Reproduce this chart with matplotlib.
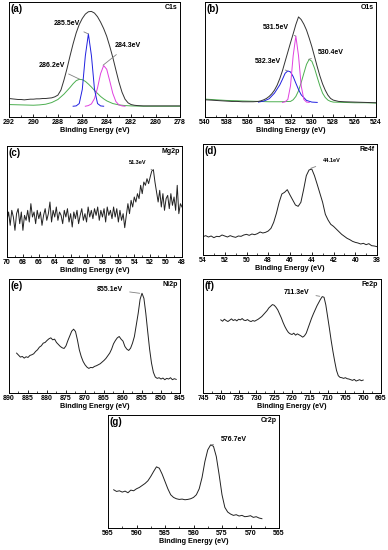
import matplotlib.pyplot as plt
from matplotlib.ticker import MultipleLocator

plt.rcParams['font.family'] = ['Liberation Sans', 'DejaVu Sans']
plt.rcParams['font.weight'] = 'bold'

# ---- (a) C1s ----
c1s_env_x = [292, 291.75, 291.5, 291.25, 291, 290.75, 290.5, 290.25, 290, 289.75, 289.5, 289.25,
             289, 288.75, 288.5, 288.25, 288, 287.75, 287.5, 287.25, 287, 286.75, 286.5, 286.25,
             286, 285.75, 285.5, 285.25, 285, 284.75, 284.5, 284.25, 284, 283.75, 283.5, 283.25,
             283, 282.75, 282.5, 282.25, 282, 281.75, 281.5, 281, 280, 279, 278]
c1s_env_y = [23, 22, 21, 20, 20, 19, 20, 21, 21, 22, 22, 23,
             23, 24, 25, 28, 33, 48, 78, 112, 150, 186, 218, 243,
             261, 274, 281, 282, 277, 266, 250, 231, 208, 178, 145, 108,
             72, 42, 21, 10, 5, 3, 2, 1, 1, 1, 1]
c1s_g_x = [292, 291, 290, 289.5, 289, 288.5, 288, 287.5, 287, 286.75, 286.5, 286.25, 286, 285.75,
           285.5, 285.25, 285, 284.75, 284.5, 284.25, 284, 283.5, 283, 282.5, 282, 281, 280, 279, 278]
c1s_g_y = [5, 4, 3, 4, 6, 11, 20, 36, 56, 67, 76, 80, 79, 74,
           66, 57, 47, 38, 29, 22, 16, 8, 4, 2, 1, 0, 0, 0, 0]
c1s_b_x = [286.75, 286.5, 286.25, 286, 285.75, 285.5, 285.25, 285, 284.75, 284.5, 284.25]
c1s_b_y = [0, 1, 8, 50, 150, 215, 150, 50, 8, 1, 0]
c1s_m_x = [285.75, 285.5, 285.25, 285, 284.75, 284.5, 284.25, 284, 283.75, 283.5, 283.25, 283, 282.75, 282.5]
c1s_m_y = [0, 2, 7, 23, 55, 97, 121, 110, 75, 38, 14, 4, 1, 0]

# ---- (b) O1s ----
o1s_env_x = [540, 539.5, 539, 538.5, 538, 537.5, 537, 536.5, 536, 535.5, 535, 534.75, 534.5, 534.25,
             534, 533.75, 533.5, 533.25, 533, 532.75, 532.5, 532.25, 532, 531.75, 531.5, 531.25,
             531, 530.75, 530.5, 530.25, 530, 529.75, 529.5, 529.25, 529, 528.75, 528.5, 528.25,
             528, 527.5, 527, 526, 525, 524]
o1s_env_y = [8, 7, 6, 5, 4, 3, 3, 2, 2, 2, 3, 5, 8, 12,
             18, 26, 37, 52, 72, 96, 124, 152, 180, 207, 235, 258,
             250, 236, 218, 194, 168, 138, 108, 80, 56, 37, 22, 12,
             7, 3, 2, 1, 0, -1]
o1s_b_x = [535, 534.5, 534, 533.5, 533, 532.75, 532.5, 532.25, 532, 531.75, 531.5, 531.25, 531, 530.5, 530, 529.5]
o1s_b_y = [1, 4, 11, 28, 53, 70, 88, 95, 92, 78, 58, 39, 23, 6, 1, 0]
o1s_m_x = [532.75, 532.5, 532.25, 532, 531.75, 531.5, 531.25, 531, 530.75, 530.5, 530.25]
o1s_m_y = [0, 2, 9, 50, 141, 200, 141, 50, 9, 1, 0]
o1s_g_x = [540, 539, 538, 537, 536, 535, 534, 533, 532, 531.75, 531.5, 531.25, 531, 530.75, 530.5,
           530.25, 530, 529.75, 529.5, 529.25, 529, 528.75, 528.5, 528.25, 528, 527, 526, 525, 524]
o1s_g_y = [10, 8, 6, 5, 4, 3, 2, 2, 3, 8, 18, 35, 60, 88, 115,
           130, 124, 103, 76, 50, 28, 15, 7, 3, 1, 0, -1, -1, -2]

# ---- (c) Mg2p ----
mg_x = [70.0, 69.8, 69.6, 69.4, 69.2, 69.0, 68.8, 68.6, 68.4, 68.2, 68.0, 67.8, 67.6, 67.4, 67.2,
        67.0, 66.8, 66.6, 66.4, 66.2, 66.0, 65.8, 65.6, 65.4, 65.2, 65.0, 64.8, 64.6, 64.4, 64.2,
        64.0, 63.8, 63.6, 63.4, 63.2, 63.0, 62.8, 62.6, 62.4, 62.2, 62.0, 61.8, 61.6, 61.4, 61.2,
        61.0, 60.8, 60.6, 60.4, 60.2, 60.0, 59.8, 59.6, 59.4, 59.2, 59.0, 58.8, 58.6, 58.4, 58.2,
        58.0, 57.8, 57.6, 57.4, 57.2, 57.0, 56.8, 56.6, 56.4, 56.2, 56.0, 55.8, 55.6, 55.4, 55.2,
        55.0, 54.8, 54.6, 54.4, 54.2, 54.0, 53.8, 53.6, 53.4, 53.2, 53.0, 52.8, 52.6, 52.4, 52.2,
        52.0, 51.8, 51.6, 51.4, 51.2, 51.0, 50.8, 50.6, 50.4, 50.2, 50.0, 49.8, 49.6, 49.4, 49.2,
        49.0, 48.8, 48.6, 48.4, 48.2, 48.0]
mg_y = [110, 135, 95, 140, 120, 80, 130, 145, 100, 135, 80, 125, 110, 140, 105,
        160, 120, 135, 100, 140, 115, 135, 95, 125, 145, 110, 130, 165, 105, 140,
        120, 150, 110, 135, 125, 100, 140, 120, 145, 105, 130, 90, 135, 115, 140,
        100, 125, 145, 110, 130, 105, 150, 120, 140, 115, 145, 125, 150, 110, 140,
        120, 145, 105, 150, 125, 140, 115, 150, 120, 145, 105, 140, 110, 130, 88,
        125, 160, 130, 170, 150, 180, 165, 190, 175, 215, 190, 225, 215, 235, 220,
        240, 258, 262, 225, 195, 165, 200, 150, 190, 140, 175, 185, 145, 190, 155,
        180, 140, 215, 130, 160, 150]

# ---- (d) Re4f ----
re_x = [54.0, 53.75, 53.5, 53.25, 53.0, 52.75, 52.5, 52.25, 52.0, 51.75, 51.5, 51.25, 51.0, 50.75,
        50.5, 50.25, 50.0, 49.75, 49.5, 49.25, 49.0, 48.75, 48.5, 48.25, 48.0, 47.75, 47.5, 47.25,
        47.0, 46.75, 46.5, 46.25, 46.0, 45.75, 45.5, 45.25, 45.0, 44.75, 44.5, 44.25, 44.0, 43.75,
        43.5, 43.25, 43.0, 42.75, 42.5, 42.25, 42.0, 41.75, 41.5, 41.25, 41.0, 40.75, 40.5, 40.25,
        40.0, 39.75, 39.5, 39.25, 39.0, 38.75, 38.5, 38.25, 38.0]
re_y = [55, 58, 54, 57, 52, 56, 55, 60, 57, 54, 58, 55, 53, 57,
        56, 60, 62, 59, 63, 61, 64, 69, 66, 68, 72, 80, 98, 125,
        158, 183, 188, 196, 180, 165, 150, 146, 158, 196, 238, 255, 258, 238,
        212, 185, 158, 122, 105, 92, 86, 78, 70, 62, 56, 50, 46, 41,
        38, 36, 33, 35, 31, 34, 28, 27, 25]

# ---- (e) Ni2p ----
ni_x = [888.0, 887.5, 887.0, 886.5, 886.0, 885.5, 885.0, 884.5, 884.0, 883.5, 883.0, 882.5, 882.0,
        881.5, 881.0, 880.5, 880.0, 879.5, 879.0, 878.5, 878.0, 877.5, 877.0, 876.5, 876.0, 875.5,
        875.0, 874.5, 874.0, 873.5, 873.0, 872.5, 872.0, 871.5, 871.0, 870.5, 870.0, 869.5, 869.0,
        868.5, 868.0, 867.5, 867.0, 866.5, 866.0, 865.5, 865.0, 864.5, 864.0, 863.5, 863.0, 862.5,
        862.0, 861.5, 861.0, 860.5, 860.0, 859.5, 859.0, 858.5, 858.0, 857.5, 857.0, 856.5, 856.0,
        855.5, 855.0, 854.5, 854.0, 853.5, 853.0, 852.5, 852.0, 851.5, 851.0, 850.5, 850.0, 849.5,
        849.0, 848.5, 848.0, 847.5, 847.0, 846.5, 846.0]
ni_y = [120, 114, 108, 110, 105, 109, 107, 113, 115, 118, 125, 130, 138,
        142, 150, 152, 158, 163, 166, 160, 162, 152, 146, 140, 136, 134,
        142, 158, 172, 186, 192, 185, 160, 130, 110, 95, 85, 78, 74,
        77, 76, 80, 82, 85, 88, 93, 98, 104, 112, 120, 132, 148,
        158, 166, 170, 162, 156, 140, 132, 128, 135, 150, 170, 205, 240,
        282, 300, 285, 240, 185, 132, 90, 62, 48, 44, 46, 42, 45,
        40, 44, 42, 46, 40, 43, 41]

# ---- (f) Fe2p ----
fe_x = [740.0, 739.5, 739.0, 738.5, 738.0, 737.5, 737.0, 736.5, 736.0, 735.5, 735.0, 734.5, 734.0,
        733.5, 733.0, 732.5, 732.0, 731.5, 731.0, 730.5, 730.0, 729.5, 729.0, 728.5, 728.0, 727.5,
        727.0, 726.5, 726.0, 725.5, 725.0, 724.5, 724.0, 723.5, 723.0, 722.5, 722.0, 721.5, 721.0,
        720.5, 720.0, 719.5, 719.0, 718.5, 718.0, 717.5, 717.0, 716.5, 716.0, 715.5, 715.0, 714.5,
        714.0, 713.5, 713.0, 712.5, 712.0, 711.5, 711.0, 710.5, 710.0, 709.5, 709.0, 708.5, 708.0,
        707.5, 707.0, 706.5, 706.0, 705.5, 705.0, 704.5, 704.0, 703.5, 703.0, 702.5, 702.0, 701.5,
        701.0, 700.5, 700.0]
fe_y = [220, 216, 222, 218, 215, 219, 223, 218, 221, 217, 222, 220, 224,
        219, 218, 221, 217, 215, 218, 216, 219, 222, 226, 230, 236, 242,
        248, 256, 261, 266, 264, 258, 250, 238, 226, 212, 200, 190, 182,
        178, 176, 180, 174, 178, 175, 172, 168, 172, 180, 195, 210, 225,
        238, 250, 262, 272, 282, 290, 288, 265, 230, 195, 158, 125, 95,
        68, 52, 47, 46, 44, 46, 43, 42, 40, 38, 41, 36, 38,
        40, 37, 39]

# ---- (g) Cr2p ----
cr_x = [594.0, 593.5, 593.0, 592.5, 592.0, 591.5, 591.0, 590.5, 590.0, 589.5, 589.0, 588.5, 588.0,
        587.5, 587.0, 586.5, 586.0, 585.5, 585.0, 584.5, 584.0, 583.5, 583.0, 582.5, 582.0, 581.5,
        581.0, 580.5, 580.0, 579.5, 579.0, 578.5, 578.0, 577.5, 577.0, 576.5, 576.0, 575.5, 575.0,
        574.5, 574.0, 573.5, 573.0, 572.5, 572.0, 571.5, 571.0, 570.5, 570.0, 569.5, 569.0, 568.5,
        568.0]
cr_y = [115, 110, 112, 108, 111, 106, 114, 112, 118, 122, 128, 134, 142,
        155, 170, 184, 180, 162, 140, 118, 100, 92, 88, 86, 87, 85,
        86, 88, 92, 100, 118, 152, 200, 235, 250, 246, 215, 160, 100,
        62, 48, 42, 38, 40, 36, 38, 34, 35, 37, 32, 34, 30,
        28]

W, H = 388, 550
fig = plt.figure(figsize=(W / 100, H / 100), dpi=100)


def panel(left, right, top, bottom, xlim, ylim, major, minor, tag, name):
    ax = fig.add_axes([left / W, 1 - bottom / H, (right - left) / W, (bottom - top) / H])
    ax.set_xlim(*xlim)
    ax.set_ylim(*ylim)
    ax.set_yticks([])
    ax.xaxis.set_major_locator(MultipleLocator(major))
    ax.xaxis.set_minor_locator(MultipleLocator(minor))
    ax.tick_params(axis='x', which='both', direction='in', labelsize=5, pad=1.5)
    ax.tick_params(axis='x', which='major', length=2.5, width=0.6)
    ax.tick_params(axis='x', which='minor', length=1.5, width=0.5)
    for s in ax.spines.values():
        s.set_linewidth(0.7)
    ax.set_xlabel('Binding Energy (eV)', fontsize=5.2, fontweight='bold', labelpad=0.5)
    ax.text(0.01, 0.985, tag, transform=ax.transAxes, va='top', ha='left', fontsize=7, fontweight='bold')
    ax.text(0.985, 0.985, name, transform=ax.transAxes, va='top', ha='right', fontsize=5, fontweight='bold')
    return ax


def note(ax, txt, xy, xytext, size=5):
    ax.annotate(txt, xy=xy, xytext=xytext, fontsize=size, fontweight='bold', ha='center', va='center',
                arrowprops=dict(arrowstyle='-', color='#808080', lw=0.6, shrinkA=3, shrinkB=0))


lw = 0.7

ax = panel(9, 180, 2, 117, (292, 278), (-32, 310), 2, 1, '(a)', 'C1s')
ax.plot(c1s_g_x, c1s_g_y, color='#4caf50', lw=lw)
ax.plot(c1s_m_x, c1s_m_y, color='#e040e0', lw=lw)
ax.plot(c1s_b_x, c1s_b_y, color='#2020e0', lw=lw)
ax.plot(c1s_env_x, c1s_env_y, color='#333333', lw=lw)
note(ax, '285.5eV', (285.5, 215), (287.3, 245))
note(ax, '284.3eV', (284.3, 122), (282.3, 180))
note(ax, '286.2eV', (286.2, 80), (288.5, 120))

ax = panel(205, 376, 2, 117, (540, 524), (-44, 303), 2, 1, '(b)', 'O1s')
ax.plot(o1s_g_x, o1s_g_y, color='#4caf50', lw=lw)
ax.plot(o1s_b_x, o1s_b_y, color='#2020e0', lw=lw)
ax.plot(o1s_m_x, o1s_m_y, color='#e040e0', lw=lw)
ax.plot(o1s_env_x, o1s_env_y, color='#333333', lw=lw)
note(ax, '531.5eV', (531.5, 200), (533.4, 226))
note(ax, '530.4eV', (530.3, 130), (528.2, 150))
note(ax, '532.3eV', (532.3, 95), (534.1, 122))

ax = panel(7, 182, 146, 257, (70, 48), (0, 333), 2, 1, '(c)', 'Mg2p')
ax.plot(mg_x, mg_y, color='#222222', lw=lw)
note(ax, '51.3eV', (51.8, 262), (53.6, 285), size=4)

ax = panel(203, 377, 144, 255, (54, 38), (0, 333), 2, 1, '(d)', 'Re4f')
ax.plot(re_x, re_y, color='#222222', lw=lw)
note(ax, '44.1eV', (44.1, 260), (42.2, 282), size=4)

ax = panel(9, 180, 279, 393, (890, 845), (0, 343), 5, 2.5, '(e)', 'Ni2p')
ax.plot(ni_x, ni_y, color='#222222', lw=lw)
note(ax, '855.1eV', (855.6, 300), (863.5, 312))

ax = panel(203, 381, 279, 393, (745, 695), (0, 343), 5, 2.5, '(f)', 'Fe2p')
ax.plot(fe_x, fe_y, color='#222222', lw=lw)
note(ax, '711.3eV', (712.2, 291), (718.8, 303))

ax = panel(108, 279, 415, 528, (595, 565), (0, 340), 5, 2.5, '(g)', 'Cr2p')
ax.plot(cr_x, cr_y, color='#222222', lw=lw)
note(ax, '576.7eV', (576.9, 250), (573.0, 265))

fig.savefig('out.png', dpi=100)
